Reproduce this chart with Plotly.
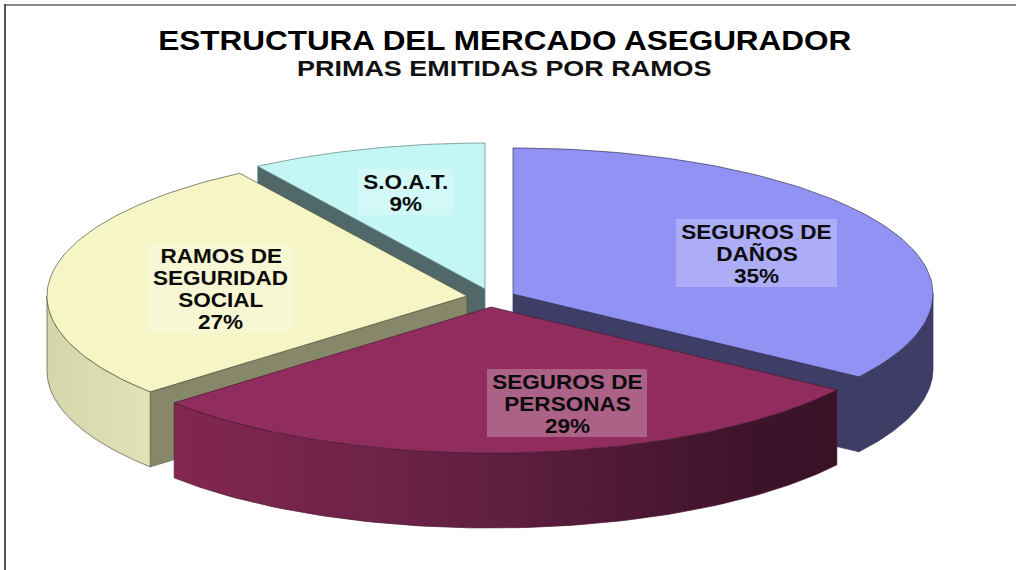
import numpy as np
import plotly.graph_objects as go

# ---- data ----
categories = ["SEGUROS DE<br>DAÑOS", "SEGUROS DE<br>PERSONAS", "RAMOS DE<br>SEGURIDAD<br>SOCIAL", "S.O.A.T."]
shares = [34.6, 29.0, 27.3, 9.1]
title_main = "ESTRUCTURA DEL MERCADO ASEGURADOR"
title_sub = "PRIMAS EMITIDAS POR RAMOS"

# ---- styling / projection (pixel-space plot) ----
W, H = 1016, 570
RX, RY, DEPTH = 420, 146, 75
apex = [(513, 294), (491, 307), (467, 296), (485, 289)]
top_col = ["#9292F5", "#902D5E", "#F5F5C5", "#C4F6F6"]
side_col = ["#3D3D66", "#7E2450", "#DEDDB2", "#506868"]
edge_col = ["#34345a", "#4a1830", "#55553f", "#5f7f7f"]
wall_grad = [None,
             [[0, "#832652"], [0.35, "#6A2247"], [0.6, "#561B3A"], [0.85, "#3F142B"], [1, "#391226"]],
             [[0, "#D6D6AC"], [1, "#E2E2B8"]],
             None]
label_box = [(676, 219, 161, 68), (487, 369, 160, 68), (148, 243, 145, 90), (358, 169, 95, 46)]
LINE_PITCH = 22
draw_order = [3, 2, 0, 1]

cum = np.concatenate([[0], np.cumsum(shares)]) / np.sum(shares) * 2 * np.pi


def arc(cx, cy, t0, t1, n=90):
    t = np.linspace(t0, t1, n)
    return cx + RX * np.sin(t), cy - RY * np.cos(t)


fig = go.Figure()


def poly(x, y, fill, line, grad=None, name=None):
    kw = dict(fillgradient=dict(type="horizontal", colorscale=grad)) if grad else dict(fillcolor=fill)
    fig.add_trace(go.Scatter(x=list(x), y=list(y), mode="lines", fill="toself",
                             line=dict(color=line, width=0.7), hoverinfo="skip" if name is None else "text",
                             text=name, showlegend=False, **kw))


for i in draw_order:
    cx, cy = apex[i]
    t0, t1 = cum[i], cum[i + 1]
    for t in (t0, t1):
        ex, ey = cx + RX * np.sin(t), cy - RY * np.cos(t)
        visible = (t == t1 and np.sin(t) > 0 and np.cos(t) < 0) or (t == t0 and np.sin(t) < 0)
        if visible:
            col = {2: "#87876A", 3: "#506868"}.get(i, side_col[i])
            poly([cx, ex, ex, cx, cx], [cy, ey, ey + DEPTH, cy + DEPTH, cy], col, edge_col[i])
    a0, a1 = max(t0, np.pi / 2), min(t1, 3 * np.pi / 2)
    if a1 > a0:
        ax_, ay_ = arc(cx, cy, a0, a1)
        poly(np.r_[ax_, ax_[::-1], ax_[0]], np.r_[ay_, ay_[::-1] + DEPTH, ay_[0]],
             side_col[i], edge_col[i], wall_grad[i])
    ax_, ay_ = arc(cx, cy, t0, t1)
    poly(np.r_[cx, ax_, cx], np.r_[cy, ay_, cy], top_col[i], edge_col[i],
         name=f"{categories[i].replace('<br>', ' ')}: {shares[i]:.0f}%")

for i, cat in enumerate(categories):
    bx, by, bw, bh = label_box[i]
    fig.add_shape(type="rect", x0=bx, x1=bx + bw, y0=by, y1=by + bh,
                  fillcolor="rgba(255,255,255,0.25)", line=dict(width=0))
    lines = cat.split("<br>") + [f"{shares[i]:.0f}%"]
    for k, txt in enumerate(lines):
        fig.add_annotation(x=bx + bw / 2, y=by + bh / 2 + (k - (len(lines) - 1) / 2) * LINE_PITCH,
                           xref="x", yref="y", text=f"<b>{txt}</b>", showarrow=False,
                           font=dict(family="Liberation Sans", size=20.5, color="#0b0b0b"))

fig.add_annotation(x=505, y=40, xref="x", yref="y", text=f"<b>{title_main}</b>", showarrow=False,
                   font=dict(family="Liberation Sans", size=28.5, color="#000000"))
fig.add_annotation(x=504, y=68, xref="x", yref="y", text=f"<b>{title_sub}</b>", showarrow=False,
                   font=dict(family="Liberation Sans", size=22, color="#111111"))

fig.add_shape(type="line", x0=4, x1=W, y0=5, y1=5, line=dict(color="#8a8a8a", width=2))
fig.add_shape(type="line", x0=5, x1=5, y0=4, y1=H, line=dict(color="#555555", width=2))

fig.update_layout(width=W, height=H, margin=dict(l=0, r=0, t=0, b=0),
                  paper_bgcolor="white", plot_bgcolor="white", showlegend=False,
                  xaxis=dict(range=[0, W], visible=False, fixedrange=True),
                  yaxis=dict(range=[H, 0], visible=False, fixedrange=True))

# The original's lettering is Arial stretched sideways: widen each text about its own centre.
stretch_js = """
document.body.style.margin='0';
document.documentElement.style.overflow='hidden';
document.querySelectorAll('text.annotation-text').forEach(function(t){
  var s = parseFloat(t.style.fontSize);
  var k = s > 25 ? 1.105 : (s > 21 ? 1.225 : 1.10);
  var cx = parseFloat(t.getAttribute('x'));
  t.setAttribute('transform','translate('+cx+',0) scale('+k+',1) translate('+(-cx)+',0)');
});
"""
fig.write_html("out.html", config={"displayModeBar": False}, post_script=stretch_js)
